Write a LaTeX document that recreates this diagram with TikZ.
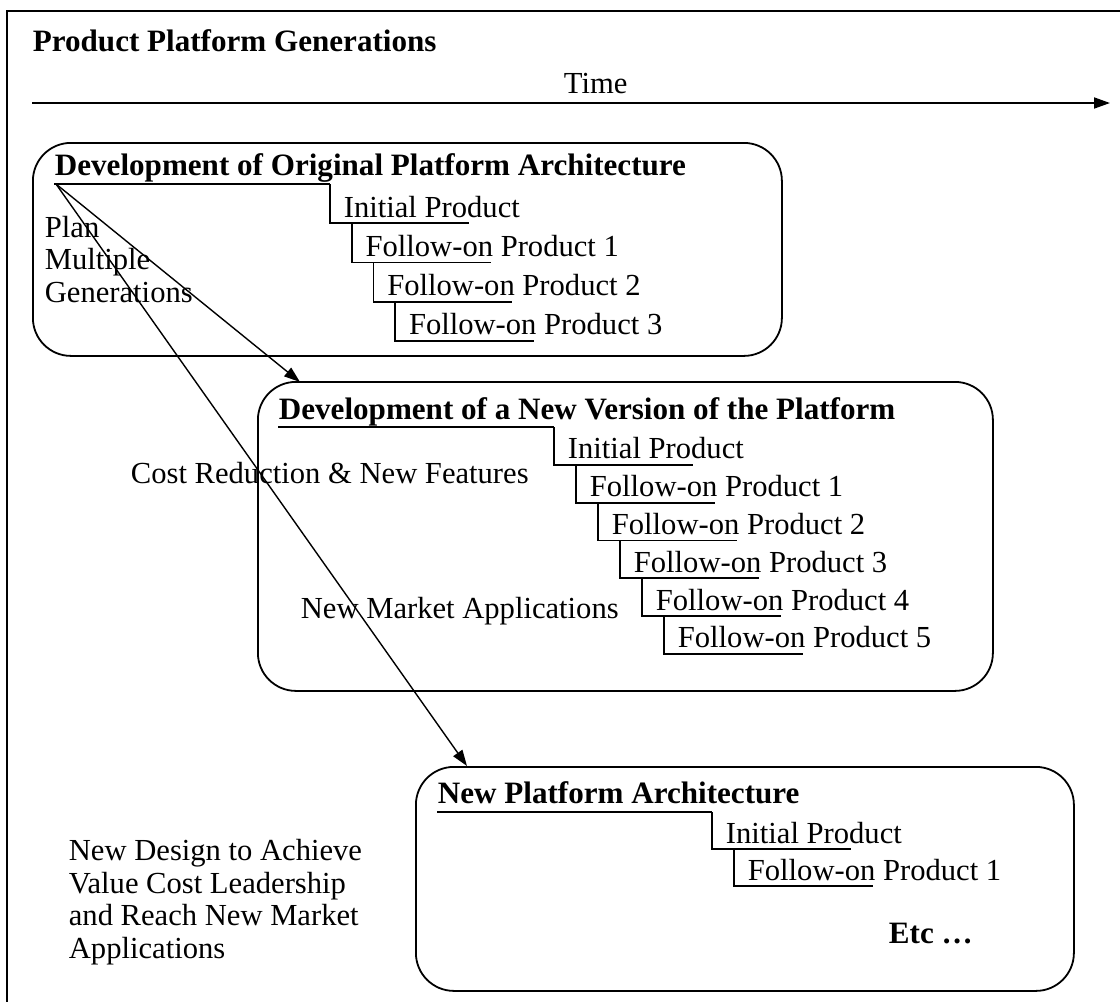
\documentclass[tikz,border=0pt]{standalone}
\usepackage{fontspec}
\setmainfont{Liberation Serif}
\usetikzlibrary{arrows.meta}
\begin{document}
\begin{tikzpicture}[x=1pt,y=-1pt, line width=1.8pt,
  txt/.style={anchor=base west, inner sep=0, font=\fontsize{30.6}{32.5}\selectfont},
  btxt/.style={anchor=base west, inner sep=0, font=\fontsize{31.1}{33}\selectfont\bfseries},
  mtxt/.style={anchor=base west, inner sep=0, align=left, font=\fontsize{30.6}{32.5}\selectfont},
  pbox/.style={draw, rounded corners=38pt, inner sep=0, anchor=north west},
  stair/.style={line width=1.8pt},
  conn/.style={line width=1.4pt, -{Triangle[length=16pt,width=11pt]}}
]
\useasboundingbox (0,0) rectangle (1120,1002);
% outer frame (left and top only visible)
\draw[line width=2pt] (7,1010) -- (7,11) -- (1130,11);

% title and time axis
\node[btxt] (title) at (32,51) {Product Platform Generations};
\node[txt] (time) at (563,93) {Time};
\coordinate (t0) at (32,103);
\coordinate (t1) at (1110,103);
\draw[conn, line width=1.8pt] (t0) -- (t1);

% boxes
\node[pbox, minimum width=749pt, minimum height=213pt] (box1) at (32,142) {};
\node[pbox, minimum width=735pt, minimum height=309pt] (box2) at (257,381) {};
\node[pbox, minimum width=658pt, minimum height=224pt] (box3) at (415,766) {};

% box 1
\node[btxt] (h1) at (54,175) {Development of Original Platform Architecture};
\draw[stair] (54,184) -- (330,184);
\foreach \i/\t in {0/Initial Product,1/Follow-on Product 1,2/Follow-on Product 2,3/Follow-on Product 3}{
  \pgfmathsetmacro{\vx}{330+21.7*\i}
  \pgfmathsetmacro{\yt}{184+39.2*\i}
  \pgfmathsetmacro{\yb}{\yt+39.2}
  \draw[stair] (\vx,\yt) -- (\vx,\yb) -- (\vx+139,\yb);
  \node[txt] (p1-\i) at (\vx+13,\yb-6) {\t};
}
\node[mtxt] (plan) at (44,302) {Plan\\Multiple\\Generations};

% box 2
\node[btxt] (h2) at (278,419) {Development of a New Version of the Platform};
\draw[stair] (278,427) -- (554,427);
\foreach \i/\t in {0/Initial Product,1/Follow-on Product 1,2/Follow-on Product 2,3/Follow-on Product 3,4/Follow-on Product 4,5/Follow-on Product 5}{
  \pgfmathsetmacro{\vx}{554+22*\i}
  \pgfmathsetmacro{\yt}{427+37.8*\i}
  \pgfmathsetmacro{\yb}{\yt+37.8}
  \draw[stair] (\vx,\yt) -- (\vx,\yb) -- (\vx+139,\yb);
  \node[txt] (p2-\i) at (\vx+13,\yb-6) {\t};
}
\node[txt] (cost) at (130,483) {Cost Reduction \& New Features};
\node[txt] (nma) at (300,618) {New Market Applications};

% box 3
\node[btxt] (h3) at (437,803) {New Platform Architecture};
\draw[stair] (437,812) -- (712,812);
\foreach \i/\t in {0/Initial Product,1/Follow-on Product 1}{
  \pgfmathsetmacro{\vx}{712+22*\i}
  \pgfmathsetmacro{\yt}{812+37*\i}
  \pgfmathsetmacro{\yb}{\yt+37}
  \draw[stair] (\vx,\yt) -- (\vx,\yb) -- (\vx+139,\yb);
  \node[txt] (p3-\i) at (\vx+13,\yb-6) {\t};
}
\node[btxt] (etc) at (888,943) {Etc …};
\node[mtxt] (newdesign) at (68,958) {New Design to Achieve\\Value Cost Leadership\\and Reach New Market\\Applications};

% connectors
\coordinate (src) at (56,184);
\coordinate (tipA) at (300,382);
\coordinate (tipB) at (467,766);
\draw[conn] (src) -- (tipA);
\draw[conn] (src) -- (tipB);
\end{tikzpicture}
\end{document}
